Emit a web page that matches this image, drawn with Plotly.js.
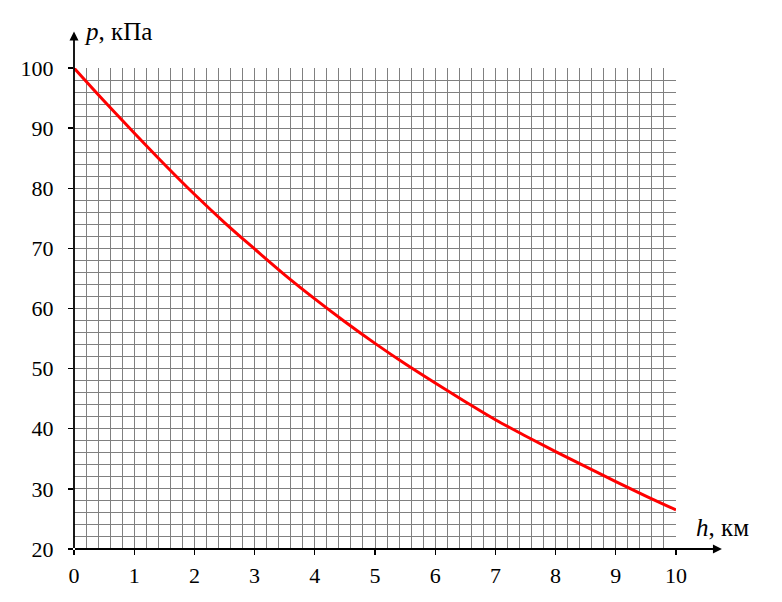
<!DOCTYPE html>
<html>
<head>
<meta charset="utf-8">
<script src="https://cdn.plot.ly/plotly-3.0.1.min.js"></script>
<style>html,body{margin:0;padding:0;background:#fff;}#chart{width:782px;height:602px;}</style>
</head>
<body>
<div id="chart"></div>
<script>
// Height, km
const heightKm = [0, 0.5, 1, 1.5, 2, 2.5, 3, 3.5, 4, 4.5, 5, 5.5, 6, 6.5, 7, 7.5, 8, 8.5, 9, 9.5, 10];
// Pressure, kPa
const pressureKPa = [100, 94.5, 89.2, 84.0, 79.0, 74.3, 69.9, 65.6, 61.6, 57.8, 54.2, 50.8, 47.6, 44.5, 41.5, 38.8, 36.2, 33.7, 31.2, 28.8, 26.5];
const xTickVals = [0, 1, 2, 3, 4, 5, 6, 7, 8, 9, 10];
const yTickVals = [20, 30, 40, 50, 60, 70, 80, 90, 100];
const xTitleVar = 'h';
const xTitleUnit = 'км';
const yTitleVar = 'p';
const yTitleUnit = 'кПа';

const serif = 'Liberation Serif, DejaVu Serif, serif';
const gridColor = '#808080';
const fs = 22;
const xRange = [0, 10.0001];
const yRange = [20, 100.0001];

// grid-only base axes
const gridTrace = {x: [], y: [], type: 'scatter', mode: 'lines', xaxis: 'x', yaxis: 'y', hoverinfo: 'skip', showlegend: false};
// curve on the labelled overlay axes
const curve = {
  x: heightKm, y: pressureKPa, type: 'scatter', mode: 'lines', xaxis: 'x2', yaxis: 'y2',
  line: {color: '#ff0000', width: 3, shape: 'spline', smoothing: 1},
  hoverinfo: 'skip', showlegend: false
};

const L = 73.5, R = 106, T = 67.5, B = 53;
const pw = 782 - L - R, ph = 602 - T - B;
const px = v => (v - L) / pw;            // pixel x -> paper
const py = v => (602 - B - v) / ph;      // pixel y -> paper

const layout = {
  width: 782, height: 602,
  margin: {l: L, r: R, t: T, b: B, pad: 0},
  paper_bgcolor: '#ffffff', plot_bgcolor: '#ffffff',
  font: {family: serif, size: fs, color: '#000'},
  showlegend: false,
  xaxis: {
    range: xRange, tickmode: 'linear', tick0: 0, dtick: 0.2,
    showgrid: true, gridcolor: gridColor, gridwidth: 1,
    zeroline: false, showline: false, ticks: '', showticklabels: false, fixedrange: true
  },
  yaxis: {
    range: yRange, tickmode: 'linear', tick0: 20, dtick: 2,
    showgrid: true, gridcolor: gridColor, gridwidth: 1,
    zeroline: false, showline: false, ticks: '', showticklabels: false, fixedrange: true
  },
  xaxis2: {
    overlaying: 'x', side: 'bottom', anchor: 'y2',
    range: xRange, tickmode: 'array', tickvals: xTickVals, ticktext: xTickVals.map(String),
    showgrid: false, zeroline: false, showline: false,
    ticks: 'outside', ticklen: 5, tickwidth: 1.3, tickcolor: '#000',
    ticklabelstandoff: 2,
    tickfont: {family: serif, size: fs, color: '#000'}, fixedrange: true
  },
  yaxis2: {
    overlaying: 'y', side: 'left', anchor: 'x2',
    range: yRange, tickmode: 'array', tickvals: yTickVals, ticktext: yTickVals.map(String),
    showgrid: false, zeroline: false, showline: false,
    ticks: 'outside', ticklen: 5, tickwidth: 1.3, tickcolor: '#000',
    ticklabelstandoff: 10,
    tickfont: {family: serif, size: fs, color: '#000'}, fixedrange: true
  },
  annotations: [
    // x axis arrow
    {xref: 'paper', yref: 'paper', x: px(722), y: 0, ax: -(722 - L), ay: 0, axref: 'pixel', ayref: 'pixel',
     text: '', showarrow: true, arrowhead: 2, arrowsize: 1, arrowwidth: 1.8, arrowcolor: '#000', standoff: 0, startstandoff: 0},
    // y axis arrow
    {xref: 'paper', yref: 'paper', x: 0, y: py(31), ax: 0, ay: (549 - 31), axref: 'pixel', ayref: 'pixel',
     text: '', showarrow: true, arrowhead: 2, arrowsize: 1, arrowwidth: 1.8, arrowcolor: '#000', standoff: 0, startstandoff: 0},
    {xref: 'paper', yref: 'paper', x: px(82), y: py(31), xanchor: 'left', yanchor: 'middle', showarrow: false,
     text: '<i>' + yTitleVar + '</i>, ' + yTitleUnit, font: {family: serif, size: 25, color: '#000'}},
    {xref: 'paper', yref: 'paper', x: px(694), y: py(527), xanchor: 'left', yanchor: 'middle', showarrow: false,
     text: '<i>' + xTitleVar + '</i>, ' + xTitleUnit, font: {family: serif, size: 25, color: '#000'}}
  ]
};

Plotly.newPlot('chart', [gridTrace, curve], layout, {displayModeBar: false, staticPlot: true});
</script>
</body>
</html>
